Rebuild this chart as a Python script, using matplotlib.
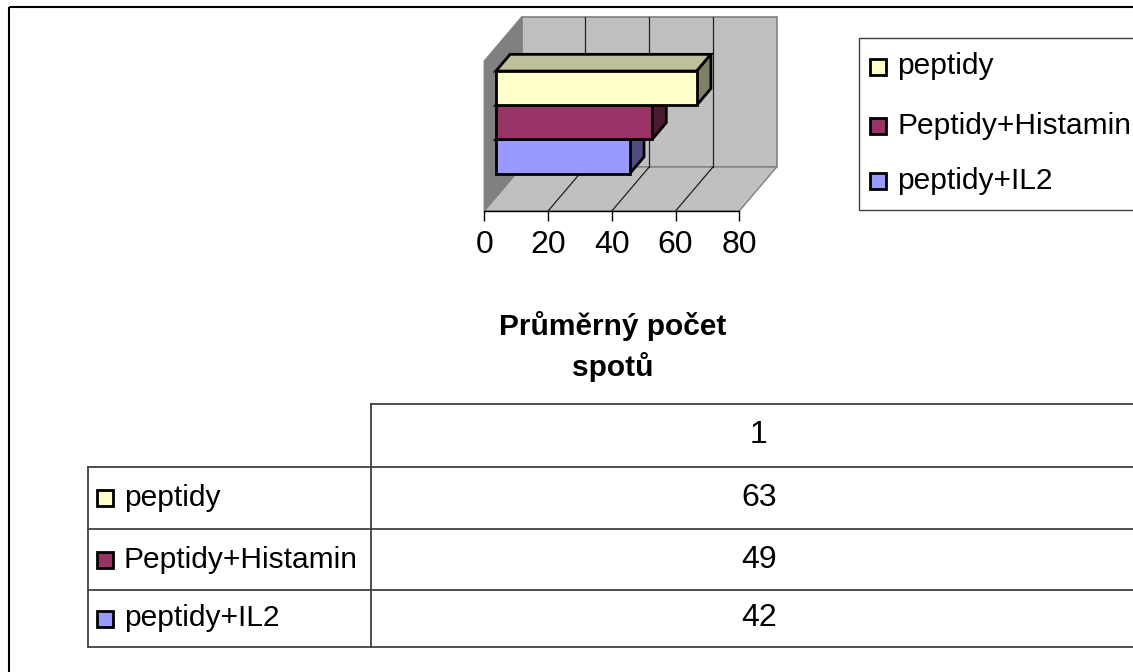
import matplotlib
matplotlib.use("Agg")
import matplotlib.pyplot as plt
from matplotlib.patches import Polygon, Rectangle

plt.rcParams['font.family'] = ['Liberation Sans', 'DejaVu Sans']

# ---- data ----
series = ["peptidy", "Peptidy+Histamin", "peptidy+IL2"]
values = [63, 49, 42]
colors = ["#FFFFCC", "#993366", "#9999FF"]
top_colors = ["#C0C09A", "#732649", "#7373BF"]
side_colors = ["#80806A", "#4D1A33", "#4D4D80"]
xticks = [0, 20, 40, 60, 80]
category_label = "1"
axis_title = ["Průměrný počet", "spotů"]

W, Hpx = 1133, 672
fig = plt.figure(figsize=(W / 100, Hpx / 100), dpi=100)

# overlay axes in pixel coordinates for frame, legend and table
ov = fig.add_axes([0, 0, 1, 1], zorder=0)
ov.set_xlim(0, W)
ov.set_ylim(Hpx, 0)
ov.axis("off")

# outer frame
ov.plot([8.5, W], [6.5, 6.5], color="black", lw=1.5, solid_capstyle="butt")
ov.plot([8.5, 8.5], [6.5, Hpx], color="black", lw=1.5, solid_capstyle="butt")

# ---- 3D-style bar chart ----
x0_px, x1_px = 484.3, 739.3
floor_px, top_px = 211, 61
ax = fig.add_axes([x0_px / W, (Hpx - floor_px) / Hpx, (x1_px - x0_px) / W,
                   (floor_px - top_px) / Hpx], zorder=2)
ax.set_facecolor("none")
XMAX = xticks[-1]
H = 150.0
ax.set_xlim(0, XMAX)
ax.set_ylim(0, H)
DX = 37.4 / (x1_px - x0_px) * XMAX   # depth offset in value units
DY = 44.0                            # depth offset in y units
for s in ["top", "right", "left"]:
    ax.spines[s].set_visible(False)
ax.spines["bottom"].set_color("black")
ax.spines["bottom"].set_linewidth(1.0)
ax.set_yticks([])
ax.set_xticks(xticks)
ax.tick_params(axis="x", direction="out", length=7, width=1.0, color="black",
               labelsize=23, pad=7)

wall_c = "#C0C0C0"
edge_c = "#808080"
# back wall
ax.add_patch(Polygon([(DX, DY), (XMAX + DX, DY), (XMAX + DX, DY + H), (DX, DY + H)],
                     closed=True, facecolor=wall_c, edgecolor=edge_c, lw=1.2,
                     clip_on=False, zorder=1))
# left side wall
ax.add_patch(Polygon([(0, 0), (DX, DY), (DX, DY + H), (0, H)], closed=True,
                     facecolor="#808080", edgecolor=edge_c, lw=1.0, clip_on=False, zorder=1))
# floor
ax.add_patch(Polygon([(0, 0), (XMAX, 0), (XMAX + DX, DY), (DX, DY)], closed=True,
                     facecolor=wall_c, edgecolor=edge_c, lw=1.0, clip_on=False, zorder=1))
# gridlines
for v in xticks[1:-1]:
    ax.plot([v + DX, v + DX], [DY, DY + H], color="#202020", lw=0.9, clip_on=False, zorder=2)
    ax.plot([v, v + DX], [0, DY], color="#202020", lw=0.9, clip_on=False, zorder=2)

# bars (bottom series drawn first)
group_frac = 0.684
bar_h = H * group_frac / len(values)
base = H * (1 - group_frac) / 2
d0, d1 = 0.31, 0.69
n = len(values)
for k in range(n - 1, -1, -1):
    pos = n - 1 - k
    v = values[k]
    yb = base + pos * bar_h
    yt = yb + bar_h
    fx, fy = d0 * DX, d0 * DY
    bx, by = d1 * DX, d1 * DY
    z = 3 + pos
    ax.add_patch(Polygon([(fx, yt + fy), (fx + v, yt + fy), (bx + v, yt + by), (bx, yt + by)],
                         closed=True, facecolor=top_colors[k], edgecolor="black", lw=2,
                         clip_on=False, zorder=z, joinstyle="miter"))
    ax.add_patch(Polygon([(fx + v, yb + fy), (bx + v, yb + by), (bx + v, yt + by), (fx + v, yt + fy)],
                         closed=True, facecolor=side_colors[k], edgecolor="black", lw=2,
                         clip_on=False, zorder=z, joinstyle="miter"))
    ax.add_patch(Rectangle((fx, yb + fy), v, bar_h, facecolor=colors[k], edgecolor="black",
                           lw=2, clip_on=False, zorder=z, joinstyle="miter"))

# axis title
ov.text(613, 326, axis_title[0], ha="center", va="center", fontsize=21.5, fontweight="bold")
ov.text(613, 367, axis_title[1], ha="center", va="center", fontsize=21.5, fontweight="bold")

# ---- legend ----
ov.add_patch(Rectangle((858.5, 37.5), 300, 172.5, facecolor="white", edgecolor="#404040",
                       lw=1.0, clip_on=False))
leg_y = [66.5, 126, 181]
for k, name in enumerate(series):
    ov.add_patch(Rectangle((870, leg_y[k] - 8), 16, 16, facecolor=colors[k],
                           edgecolor="black", lw=2))
    ov.text(897, leg_y[k], name, ha="left", va="center", fontsize=21.5)

# ---- data table ----
tc = "#404040"
rows_y = [404, 466.5, 529, 590, 647]
ov.plot([371, W], [rows_y[0], rows_y[0]], color=tc, lw=1.3)
for yy in rows_y[1:]:
    ov.plot([88, W], [yy, yy], color=tc, lw=1.3)
ov.plot([371, 371], [rows_y[0], rows_y[-1]], color=tc, lw=1.3)
ov.plot([88, 88], [rows_y[1], rows_y[-1]], color=tc, lw=1.3)
ov.text(759, (rows_y[0] + rows_y[1]) / 2, category_label, ha="center", va="center", fontsize=23)
for k, name in enumerate(series):
    yc = (rows_y[k + 1] + rows_y[k + 2]) / 2
    ov.add_patch(Rectangle((97, yc - 8), 16, 16, facecolor=colors[k],
                           edgecolor="black", lw=2))
    ov.text(124, yc, name, ha="left", va="center", fontsize=21.5)
    ov.text(759, yc, str(values[k]), ha="center", va="center", fontsize=23)

fig.savefig("out.png", dpi=100)
